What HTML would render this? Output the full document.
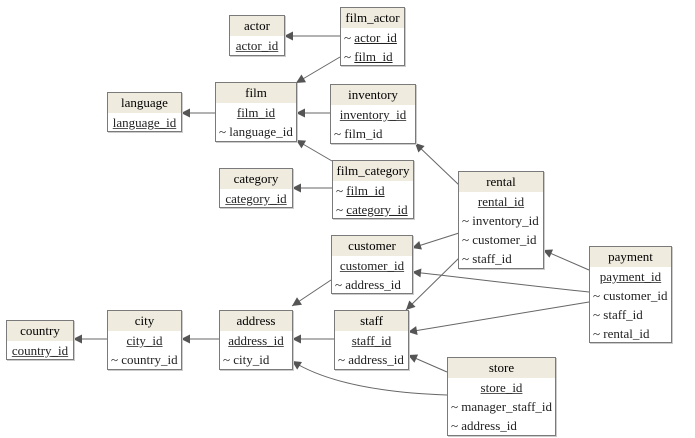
<!DOCTYPE html>
<html><head><meta charset="utf-8"><style>
body{margin:0;width:695px;height:438px;background:#fff;position:relative;overflow:hidden;font-family:"Liberation Serif",serif;font-size:13px;color:#222}
.b{position:absolute;border:1px solid #7a7a7a;background:#fff;box-sizing:border-box;box-shadow:1px 1px 0 #ccc}
.h{background:#efebdf;text-align:center;height:20px;line-height:20px;color:#000}
.r{height:19px;line-height:19px;white-space:nowrap;padding-left:3px}
.k{text-align:center;padding:0}
.k span,.f span{text-decoration:underline;text-decoration-color:#555}
svg{position:absolute;left:0;top:0}
</style></head><body>
<svg width="695" height="438">
<defs><marker id="a" viewBox="0 0 10 10" refX="10" refY="5" markerWidth="12" markerHeight="9" orient="auto" markerUnits="userSpaceOnUse"><path d="M0,0L10,5L0,10z" fill="#555"/></marker></defs>
<g stroke="#666" stroke-width="1" fill="none" marker-end="url(#a)">
<path d="M340,36L284,36"/>
<path d="M340,57L296,83"/>
<path d="M330,113L296,113"/>
<path d="M216,113L181,113"/>
<path d="M332,161L296,140"/>
<path d="M332,188L292,188"/>
<path d="M459,185L415,143"/>
<path d="M459,233L412,248"/>
<path d="M459,258L406,310"/>
<path d="M589,270L543,250"/>
<path d="M589,292C520,285 460,277 412,272"/>
<path d="M589,302L408,332"/>
<path d="M447,372L408,355"/>
<path d="M447,395C390,393 330,385 292,361"/>
<path d="M331,280L292,306"/>
<path d="M335,339L292,339"/>
<path d="M219,339L181,339"/>
<path d="M107,339L73,339"/>
</g></svg>

<div class="b" style="left:229px;top:15px;width:56px;height:41px"><div class="h">actor</div><div class="r k"><span>actor_id</span></div></div>
<div class="b" style="left:340px;top:7px;width:65px;height:59px"><div class="h">film_actor</div><div class="r">~ <span style="text-decoration:underline">actor_id</span></div><div class="r">~ <span style="text-decoration:underline">film_id</span></div></div>
<div class="b" style="left:107px;top:92px;width:75px;height:40px"><div class="h">language</div><div class="r k"><span>language_id</span></div></div>
<div class="b" style="left:215px;top:82px;width:82px;height:60px"><div class="h">film</div><div class="r k"><span>film_id</span></div><div class="r">~ language_id</div></div>
<div class="b" style="left:330px;top:84px;width:86px;height:60px"><div class="h">inventory</div><div class="r k"><span>inventory_id</span></div><div class="r">~ film_id</div></div>
<div class="b" style="left:219px;top:168px;width:74px;height:40px"><div class="h">category</div><div class="r k"><span>category_id</span></div></div>
<div class="b" style="left:332px;top:160px;width:82px;height:59px"><div class="h">film_category</div><div class="r">~ <span style="text-decoration:underline">film_id</span></div><div class="r">~ <span style="text-decoration:underline">category_id</span></div></div>
<div class="b" style="left:458px;top:171px;width:86px;height:98px"><div class="h">rental</div><div class="r k"><span>rental_id</span></div><div class="r">~ inventory_id</div><div class="r">~ customer_id</div><div class="r">~ staff_id</div></div>
<div class="b" style="left:331px;top:235px;width:82px;height:59px"><div class="h">customer</div><div class="r k"><span>customer_id</span></div><div class="r">~ address_id</div></div>
<div class="b" style="left:589px;top:246px;width:83px;height:97px"><div class="h">payment</div><div class="r k"><span>payment_id</span></div><div class="r">~ customer_id</div><div class="r">~ staff_id</div><div class="r">~ rental_id</div></div>
<div class="b" style="left:6px;top:320px;width:68px;height:40px"><div class="h">country</div><div class="r k"><span>country_id</span></div></div>
<div class="b" style="left:107px;top:310px;width:75px;height:60px"><div class="h">city</div><div class="r k"><span>city_id</span></div><div class="r">~ country_id</div></div>
<div class="b" style="left:219px;top:310px;width:74px;height:60px"><div class="h">address</div><div class="r k"><span>address_id</span></div><div class="r">~ city_id</div></div>
<div class="b" style="left:334px;top:310px;width:75px;height:60px"><div class="h">staff</div><div class="r k"><span>staff_id</span></div><div class="r">~ address_id</div></div>
<div class="b" style="left:447px;top:357px;width:109px;height:79px"><div class="h">store</div><div class="r k"><span>store_id</span></div><div class="r">~ manager_staff_id</div><div class="r">~ address_id</div></div>
</body></html>
